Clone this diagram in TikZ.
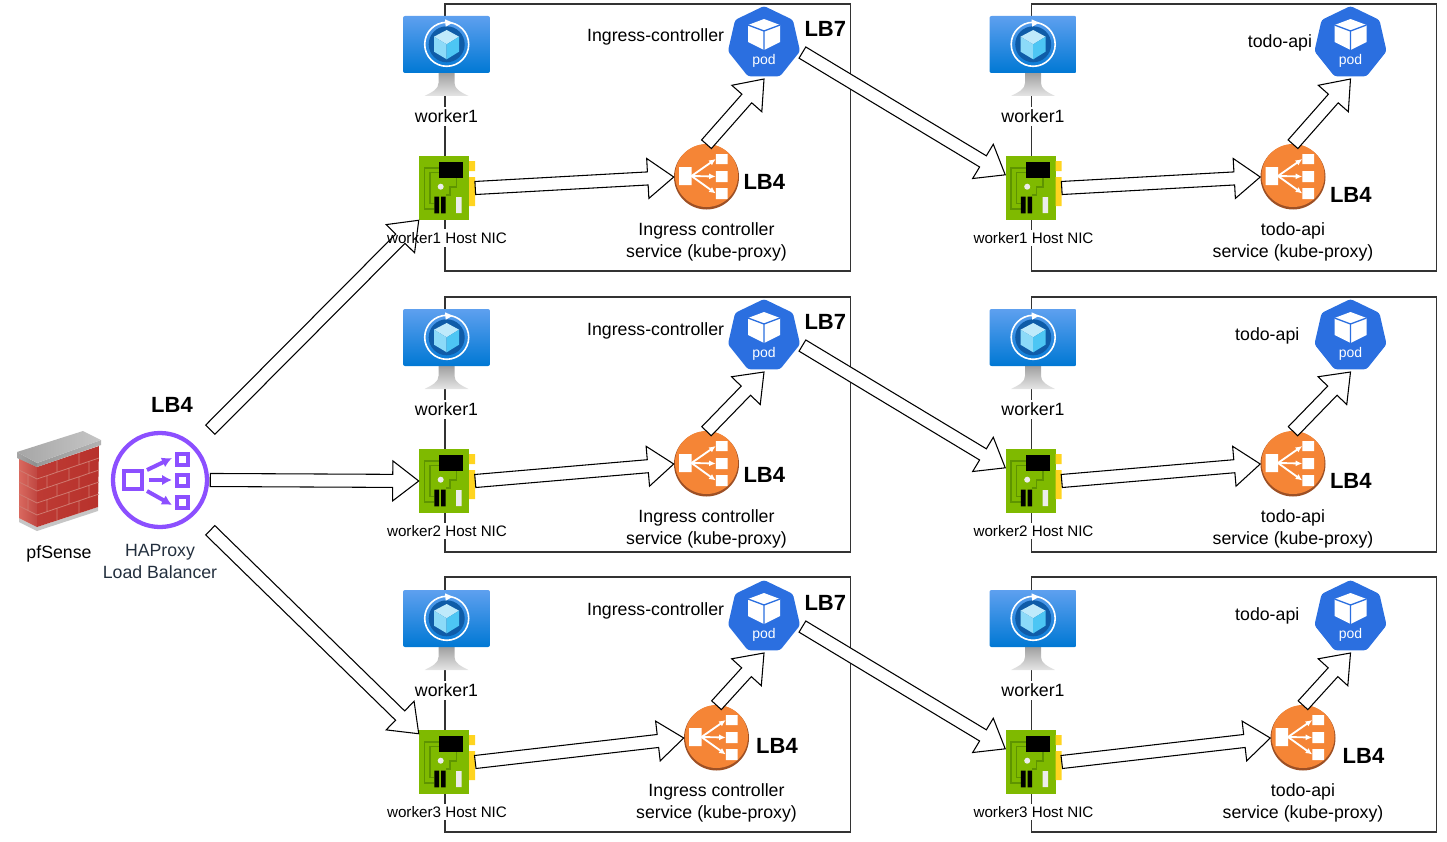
\documentclass[tikz,border=0pt]{standalone}
\usepackage{xcolor}
\usepackage{fontspec}
\setmainfont{Liberation Sans}
\usetikzlibrary{arrows.meta,calc,positioning,shapes.geometric}
\definecolor{framegray}{HTML}{333333}
\definecolor{vmtop}{HTML}{5EA0EF}
\definecolor{vmbottom}{HTML}{0078D4}
\definecolor{vmdisc}{HTML}{0F5CA8}
\definecolor{nicgreen}{HTML}{7FBA00}
\definecolor{nictrace}{HTML}{5E9400}
\definecolor{nicyellow}{HTML}{FFD41F}
\definecolor{podblue}{HTML}{2B6FE0}
\definecolor{svcorange}{HTML}{F58536}
\definecolor{svcshadow}{HTML}{9D5025}
\definecolor{haproxypurple}{HTML}{8C4FFF}
\definecolor{haproxytext}{HTML}{232F3E}
\definecolor{brickdark}{HTML}{B8322C}
\definecolor{bricklight}{HTML}{D9695F}
\definecolor{brickjoint}{HTML}{D07A70}
\tikzset{
  hostbox/.style={
    draw=framegray,
    line width=1pt,
    minimum width=304pt,
    inner sep=0pt
  },
  vmbox/.style={
    minimum width=65.25pt,
    minimum height=60pt,
    inner sep=0pt
  },
  nicbox/.style={
    minimum width=42pt,
    minimum height=48pt,
    inner sep=0pt
  },
  podbox/.style={
    regular polygon,
    regular polygon sides=7,
    fill=podblue,
    rounded corners=2pt,
    minimum size=55.5pt,
    outer sep=2pt,
    inner sep=0pt
  },
  svcbox/.style={
    circle,
    fill=svcshadow,
    minimum size=48.75pt,
    inner sep=0pt
  },
  hostlabel/.style={
    fill=white,
    align=center,
    inner sep=2pt,
    font=\fontsize{13.3}{16.5}\selectfont
  },
  niclabel/.style={
    hostlabel,
    font=\fontsize{11.4}{14}\selectfont
  },
  plainlabel/.style={
    align=center,
    inner sep=1pt,
    font=\fontsize{13.3}{16.5}\selectfont
  },
  lbtag/.style={
    inner sep=1pt,
    font=\fontsize{16.5}{20}\selectfont\bfseries
  },
  fatarrow/.style={
    draw=black,
    fill=white,
    line width=0.8pt,
    line join=miter,
    to path={
      ($(\tikztostart)!4.9pt!90:(\tikztotarget)$)
      -- ($(\tikztotarget)!19.5pt!(\tikztostart)!4.9pt!90:(\tikztotarget)$)
      -- ($(\tikztotarget)!19.5pt!(\tikztostart)!15pt!90:(\tikztotarget)$)
      -- (\tikztotarget)
      -- ($(\tikztotarget)!19.5pt!(\tikztostart)!15pt!-90:(\tikztotarget)$)
      -- ($(\tikztotarget)!19.5pt!(\tikztostart)!4.9pt!-90:(\tikztotarget)$)
      -- ($(\tikztostart)!4.9pt!-90:(\tikztotarget)$)
      -- cycle
    }
  },
  vmicon/.pic={
    \path[top color=gray!75,bottom color=gray!20]
      (-8,17) -- (8,17) -- (8,27) .. controls (8,33) and (14,36) .. (22,40)
      -- (-22,40) .. controls (-14,36) and (-8,33) .. (-8,27) -- cycle;
    \path[top color=vmtop,bottom color=vmbottom,rounded corners=1.5pt]
      (-43.5,-40) rectangle (43.5,17);
    \fill[vmdisc] (0.2,-11.7) circle (18);
    \draw[white,line width=1.2pt] (0.2,-11.7) circle (22);
    \fill[white] (-1.5,-36.7) -- (6.2,-33.3) -- (-0.8,-29.3) -- cycle;
    \fill[vmtopface] (0.2,-26) -- (12.5,-19.3) -- (0.2,-11.7) -- (-12.5,-19.3) -- cycle;
    \fill[vmleftface] (-12.5,-19.3) -- (0.2,-11.7) -- (0.2,3.3) -- (-12.5,-4.3) -- cycle;
    \fill[vmrightface] (12.5,-19.3) -- (0.2,-11.7) -- (0.2,3.3) -- (12.5,-4.3) -- cycle;
  },
  vmtopface/.style={color=cyan!25!white},
  vmleftface/.style={color=cyan!45!white},
  vmrightface/.style={color=cyan!70!white},
  nicicon/.pic={
    \fill[nicgreen] (-28,-32) rectangle (22,32);
    \fill[nicyellow] (22,-27) rectangle (28,-17) (22,-11) rectangle (28,18);
    \draw[nictrace,line width=1.1pt]
      (-8,-20) -- (-22.7,-20) -- (-22.7,21) -- (-12.7,21)
      (-8,-15.7) -- (-17,-15.7) -- (-17,15.3) -- (-12.7,15.3)
      (9.7,-11) -- (9.7,-1) -- (3,-1) -- (3,7) -- (-1.3,7);
    \fill[black] (-8,-26) rectangle (16,-10);
    \fill[black] (-12.7,8.7) rectangle (-8,25.3) (-6,8.7) rectangle (-1.3,25.3);
    \fill[gray!15] (-6.3,-1.3) circle (3) (9,9) rectangle (14.7,25);
  },
  podicon/.pic={
    \fill[white] (0,-24) -- (16,-18) -- (16,-1) -- (0,7) -- (-16,-1) -- (-16,-18) -- cycle;
    \draw[podblue,line width=1pt] (-16,-18) -- (0,-12) -- (16,-18) (0,-12) -- (0,7);
    \node[text=white,inner sep=0pt,font=\fontsize{10.5}{12}\selectfont] (-text) at (0,18) {pod};
  },
  svcicon/.pic={
    \fill[svcorange] (0,-1.5) circle (31.5);
    \fill[white] (-27.5,-10) rectangle (-15,8)
      (9.3,-23) rectangle (21,-13) (9.3,-6) rectangle (21,5) (9.3,11) rectangle (21,22);
    \draw[white,line width=1.4pt,-{Latex[length=5pt,width=4.5pt]}] (-15,-1) -- (9.3,-18);
    \draw[white,line width=1.4pt,-{Latex[length=5pt,width=4.5pt]}] (-15,-1) -- (9.3,-0.5);
    \draw[white,line width=1.4pt,-{Latex[length=5pt,width=4.5pt]}] (-15,-1) -- (9.3,16.5);
  },
  haproxyicon/.pic={
    \draw[haproxypurple,line width=3.2pt] (0,0) circle (47);
    \draw[haproxypurple,line width=3pt] (-36,-9) rectangle (-18,9)
      (17,-26) rectangle (28,-15) (17,-5) rectangle (28,6) (17,17) rectangle (28,28);
    \draw[haproxypurple,line width=3pt,-{Latex[length=7.5pt,width=8pt]}] (-13,-10) -- (12,-22);
    \draw[haproxypurple,line width=3pt,-{Latex[length=7.5pt,width=8pt]}] (-11,0) -- (12,0);
    \draw[haproxypurple,line width=3pt,-{Latex[length=7.5pt,width=8pt]}] (-13,11) -- (12,25);
  },
  wallicon/.pic={
    \fill[gray!45] (-40,37) -- (-22,46) -- (39,26) -- (39,30) -- (-22,50) -- (-40,41) -- cycle;
    \path[left color=bricklight,right color=brickdark!90!white] (-40,-23) -- (-22,-14) -- (-22,46) -- (-40,37) -- cycle;
    \path[left color=brickdark!85!bricklight,right color=brickdark] (-22,-14) -- (40,-35) -- (39,26) -- (-22,46) -- cycle;
    \draw[brickjoint,line width=0.6pt]
      (-40,-11) -- (-22,-2) -- (40,-23) (-40,1) -- (-22,10) -- (40,-11)
      (-40,13) -- (-22,22) -- (40,1) (-40,25) -- (-22,34) -- (40,13)
      (-2,-20.8) -- (-2,-8.8) (20,-28.2) -- (20,-16.2)
      (-12,-5.4) -- (-12,6.6) (10,-12.8) -- (10,-0.8) (30,-19.6) -- (30,-7.6)
      (-2,3.2) -- (-2,15.2) (20,-4.2) -- (20,7.8)
      (-12,18.6) -- (-12,30.6) (10,11.2) -- (10,23.2) (30,4.4) -- (30,16.4)
      (-2,27.2) -- (-2,39.2) (20,19.8) -- (20,31.8)
      (-31,-6.5) -- (-31,5.5) (-31,17.5) -- (-31,29.5);
    \path[left color=gray!70,right color=gray!90] (-42,-29) -- (-22,-18) -- (-22,-14) -- (-42,-23) -- cycle;
    \path[left color=gray!80,right color=gray!60] (-22,-18) -- (42,-41) -- (42,-36) -- (-22,-14) -- cycle;
    \path[left color=gray!70,right color=gray!45] (-42,-29) -- (24,-50) -- (42,-41) -- (-22,-18) -- cycle;
  }
}
\begin{document}
\begin{tikzpicture}[x=0.75pt,y=-0.75pt]
    \useasboundingbox (0,0) rectangle (1447,842);

    % host frames
    \node[hostbox, minimum height=200.25pt] (host1a) at (647.5,137.5) {};
    \node[hostbox, minimum height=191.25pt] (host2a) at (647.5,424.5) {};
    \node[hostbox, minimum height=191.25pt] (host3a) at (647.5,704.5) {};
    \node[hostbox, minimum height=200.25pt] (host1b) at (1234,137.5) {};
    \node[hostbox, minimum height=191.25pt] (host2b) at (1234,424.5) {};
    \node[hostbox, minimum height=191.25pt] (host3b) at (1234,704.5) {};
    \fill[white] (440,229) rectangle (450,247);

    % firewall and balancer
    \node[minimum width=63pt, minimum height=75pt, inner sep=0pt] (wall) at (59,481) {};
    \pic at (wall) {wallicon};
    \node[plainlabel, below=9.5pt of wall] (walllabel) {pfSense};
    \node[minimum size=75pt, inner sep=0pt] (haproxy) at (160,480) {};
    \pic at (haproxy) {haproxyicon};
    \node[plainlabel, text=haproxytext, below=9pt of haproxy] (haproxylabel) {HAProxy\\Load Balancer};
    \node[lbtag, above=11.5pt of haproxy, xshift=9pt] (haproxytag) {LB4};

    % worker machines
    \node[vmbox] (vm1a) at (446.5,56) {};
    \node[vmbox] (vm2a) at (446.5,349) {};
    \node[vmbox] (vm3a) at (446.5,630) {};
    \node[vmbox] (vm1b) at (1033,56) {};
    \node[vmbox] (vm2b) at (1033,349) {};
    \node[vmbox] (vm3b) at (1033,630) {};
    \pic at (vm1a) {vmicon};
    \pic at (vm2a) {vmicon};
    \pic at (vm3a) {vmicon};
    \pic at (vm1b) {vmicon};
    \pic at (vm2b) {vmicon};
    \pic at (vm3b) {vmicon};
    \node[hostlabel, below=8pt of vm1a] (vm1alabel) {worker1};
    \node[hostlabel, below=8pt of vm2a] (vm2alabel) {worker1};
    \node[hostlabel, below=8pt of vm3a] (vm3alabel) {worker1};
    \node[hostlabel, below=8pt of vm1b] (vm1blabel) {worker1};
    \node[hostlabel, below=8pt of vm2b] (vm2blabel) {worker1};
    \node[hostlabel, below=8pt of vm3b] (vm3blabel) {worker1};

    % host NICs
    \node[nicbox] (nic1a) at (447,188) {};
    \node[nicbox] (nic2a) at (447,481) {};
    \node[nicbox] (nic3a) at (447,762) {};
    \node[nicbox] (nic1b) at (1033.5,188) {};
    \node[nicbox] (nic2b) at (1033.5,481) {};
    \node[nicbox] (nic3b) at (1033.5,762) {};
    \pic at (nic1a) {nicicon};
    \pic at (nic2a) {nicicon};
    \pic at (nic3a) {nicicon};
    \pic at (nic1b) {nicicon};
    \pic at (nic2b) {nicicon};
    \pic at (nic3b) {nicicon};
    \node[niclabel, below=7pt of nic2a] (nic2alabel) {worker2 Host NIC};
    \node[niclabel, below=7pt of nic3a] (nic3alabel) {worker3 Host NIC};
    \node[niclabel, below=7pt of nic1b] (nic1blabel) {worker1 Host NIC};
    \node[niclabel, below=7pt of nic2b] (nic2blabel) {worker2 Host NIC};
    \node[niclabel, below=7pt of nic3b] (nic3blabel) {worker3 Host NIC};

    % pods
    \node[podbox] (pod1a) at (764,43) {};
    \node[podbox] (pod2a) at (764,336) {};
    \node[podbox] (pod3a) at (764,617) {};
    \node[podbox] (pod1b) at (1350.5,43) {};
    \node[podbox] (pod2b) at (1350.5,336) {};
    \node[podbox] (pod3b) at (1350.5,617) {};
    \pic (podmark1a) at (pod1a) {podicon};
    \pic (podmark2a) at (pod2a) {podicon};
    \pic (podmark3a) at (pod3a) {podicon};
    \pic (podmark1b) at (pod1b) {podicon};
    \pic (podmark2b) at (pod2b) {podicon};
    \pic (podmark3b) at (pod3b) {podicon};
    \node[plainlabel, left=1pt of pod1a, yshift=4.75pt] (pod1alabel) {Ingress-controller};
    \node[plainlabel, left=1pt of pod2a, yshift=4pt] (pod2alabel) {Ingress-controller};
    \node[plainlabel, left=1pt of pod3a, yshift=4.75pt] (pod3alabel) {Ingress-controller};
    \node[plainlabel, left=0pt of pod1b, yshift=0pt] (pod1blabel) {todo-api};
    \node[plainlabel, left=9.5pt of pod2b, yshift=0pt] (pod2blabel) {todo-api};
    \node[plainlabel, left=9.5pt of pod3b, yshift=0.5pt] (pod3blabel) {todo-api};
    \node[lbtag, right=1.5pt of pod1a, yshift=10.5pt] (pod1atag) {LB7};
    \node[lbtag, right=1.5pt of pod2a, yshift=10.5pt] (pod2atag) {LB7};
    \node[lbtag, right=1.5pt of pod3a, yshift=10.5pt] (pod3atag) {LB7};

    % kube-proxy services
    \node[svcbox] (svc1a) at (706.5,177) {};
    \node[svcbox] (svc2a) at (706.5,464) {};
    \node[svcbox] (svc3a) at (716.5,738) {};
    \node[svcbox] (svc1b) at (1293,177) {};
    \node[svcbox] (svc2b) at (1293,464) {};
    \node[svcbox] (svc3b) at (1303,738) {};
    \pic at (svc1a) {svcicon};
    \pic at (svc2a) {svcicon};
    \pic at (svc3a) {svcicon};
    \pic at (svc1b) {svcicon};
    \pic at (svc2b) {svcicon};
    \pic at (svc3b) {svcicon};
    \node[plainlabel, below=8.5pt of svc1a] (svc1alabel) {Ingress controller\\service (kube-proxy)};
    \node[plainlabel, below=8.5pt of svc2a] (svc2alabel) {Ingress controller\\service (kube-proxy)};
    \node[plainlabel, below=8.5pt of svc3a] (svc3alabel) {Ingress controller\\service (kube-proxy)};
    \node[plainlabel, below=8.5pt of svc1b] (svc1blabel) {todo-api\\service (kube-proxy)};
    \node[plainlabel, below=8.5pt of svc2b] (svc2blabel) {todo-api\\service (kube-proxy)};
    \node[plainlabel, below=8.5pt of svc3b] (svc3blabel) {todo-api\\service (kube-proxy)};
    \node[lbtag, right=2pt of svc1a, yshift=-3.75pt] (svc1atag) {LB4};
    \node[lbtag, right=2pt of svc2a, yshift=-8.25pt] (svc2atag) {LB4};
    \node[lbtag, right=4pt of svc3a, yshift=-6pt] (svc3atag) {LB4};
    \node[lbtag, right=2pt of svc1b, yshift=-13.5pt] (svc1btag) {LB4};
    \node[lbtag, right=2pt of svc2b, yshift=-12.75pt] (svc2btag) {LB4};
    \node[lbtag, right=4pt of svc3b, yshift=-13.5pt] (svc3btag) {LB4};

    % traffic
    \draw[fatarrow] (haproxy.north east) to (nic1a.south west);
    \draw[fatarrow] (haproxy.east) to (nic2a.west);
    \draw[fatarrow] (haproxy.south east) to (nic3a.135);
    \draw[fatarrow] (nic1a.east) to (svc1a.west);
    \draw[fatarrow] (nic2a.east) to (svc2a.west);
    \draw[fatarrow] (nic3a.east) to (svc3a.west);
    \draw[fatarrow] (svc1a.north) to (pod1a.south);
    \draw[fatarrow] (svc2a.north) to (pod2a.south);
    \draw[fatarrow] (svc3a.north) to (pod3a.south);
    \draw[fatarrow] (pod1a.-14) to (nic1b.155);
    \draw[fatarrow] (pod2a.-14) to (nic2b.155);
    \draw[fatarrow] (pod3a.-14) to (nic3b.155);
    \draw[fatarrow] (nic1b.east) to (svc1b.west);
    \draw[fatarrow] (nic2b.east) to (svc2b.west);
    \draw[fatarrow] (nic3b.east) to (svc3b.west);
    \draw[fatarrow] (svc1b.north) to (pod1b.south);
    \draw[fatarrow] (svc2b.north) to (pod2b.south);
    \draw[fatarrow] (svc3b.north) to (pod3b.south);

    \node[niclabel, fill=none, below=7pt of nic1a] (nic1alabel) {worker1 Host NIC};
\end{tikzpicture}
\end{document}
